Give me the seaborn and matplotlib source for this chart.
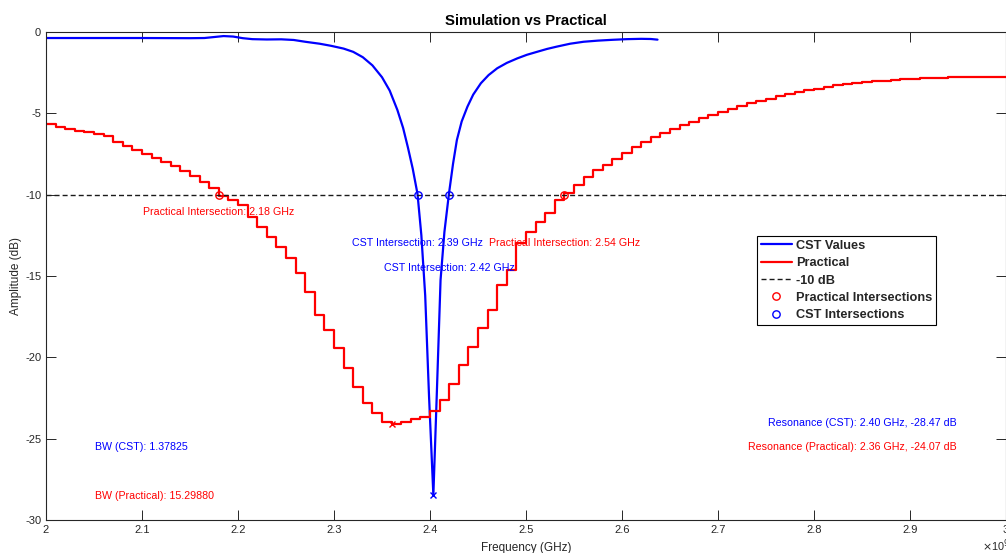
import numpy as np
import pandas as pd
import matplotlib
matplotlib.use("Agg")
import matplotlib.pyplot as plt
import seaborn as sns

# ---------------- data ----------------
# CST simulated S11 (GHz, dB)
cst_freq = [2.000, 2.050, 2.100, 2.150, 2.165, 2.175, 2.185, 2.195, 2.205, 2.215,
            2.230, 2.245, 2.258, 2.270, 2.285, 2.297, 2.310, 2.320, 2.330, 2.340,
            2.350, 2.358, 2.366, 2.372, 2.377, 2.382, 2.387, 2.391, 2.395, 2.399,
            2.4035, 2.407, 2.411, 2.415, 2.4197, 2.424, 2.428, 2.433, 2.439, 2.445,
            2.453, 2.461, 2.470, 2.480, 2.491, 2.501, 2.512, 2.522, 2.532, 2.546,
            2.560, 2.575, 2.590, 2.605, 2.620, 2.630, 2.637]
cst_db = [-0.37, -0.37, -0.37, -0.38, -0.37, -0.31, -0.25, -0.28, -0.38, -0.44,
          -0.46, -0.45, -0.49, -0.60, -0.72, -0.85, -1.02, -1.22, -1.55, -2.05,
          -2.78, -3.60, -4.79, -5.90, -7.10, -8.40, -9.96, -12.5, -16.2, -22.4,
          -28.47, -22.4, -15.24, -12.3, -9.96, -8.10, -6.64, -5.50, -4.59, -3.85,
          -3.15, -2.65, -2.23, -1.90, -1.62, -1.40, -1.21, -1.04, -0.90, -0.72,
          -0.60, -0.53, -0.48, -0.44, -0.42, -0.43, -0.47]

# Practical (measured) S11, stepped every 0.01 GHz
prac_freq = [2.00, 2.01, 2.02, 2.03, 2.04, 2.05, 2.06, 2.07, 2.08, 2.09,
             2.10, 2.11, 2.12, 2.13, 2.14, 2.15, 2.16, 2.17, 2.18, 2.19,
             2.20, 2.21, 2.22, 2.23, 2.24, 2.25, 2.26, 2.27, 2.28, 2.29,
             2.30, 2.31, 2.32, 2.33, 2.34, 2.35, 2.36, 2.37, 2.38, 2.39,
             2.40, 2.41, 2.42, 2.43, 2.44, 2.45, 2.46, 2.47, 2.48, 2.49,
             2.50, 2.51, 2.52, 2.53, 2.54, 2.55, 2.56, 2.57, 2.58, 2.59,
             2.60, 2.61, 2.62, 2.63, 2.64, 2.65, 2.66, 2.67, 2.68, 2.69,
             2.70, 2.71, 2.72, 2.73, 2.74, 2.75, 2.76, 2.77, 2.78, 2.79,
             2.80, 2.81, 2.82, 2.83, 2.84, 2.85, 2.86, 2.87, 2.88, 2.89,
             2.90, 2.91, 2.92, 2.93, 2.94, 2.95, 2.96, 2.97, 2.98, 2.99,
             3.00]
prac_db = [-5.66, -5.82, -5.94, -6.06, -6.17, -6.27, -6.37, -6.78, -7.01, -7.25,
           -7.50, -7.72, -8.01, -8.24, -8.54, -8.85, -9.20, -9.57, -10.10, -10.35,
           -10.65, -11.35, -11.97, -12.58, -13.20, -13.91, -14.84, -15.96, -17.39, -18.35,
           -19.45, -20.67, -21.84, -22.82, -23.44, -23.95, -24.07, -23.95, -23.81, -23.64,
           -23.29, -22.62, -21.64, -20.47, -19.34, -18.21, -17.09, -15.55, -14.63, -12.99,
           -12.27, -11.66, -11.10, -10.35, -9.90, -9.40, -8.89, -8.48, -8.17, -7.81,
           -7.42, -7.05, -6.74, -6.47, -6.23, -5.98, -5.74, -5.51, -5.29, -5.10,
           -4.90, -4.73, -4.55, -4.38, -4.24, -4.10, -3.93, -3.81, -3.69, -3.59,
           -3.48, -3.36, -3.28, -3.20, -3.13, -3.07, -3.03, -2.99, -2.95, -2.91,
           -2.87, -2.85, -2.83, -2.81, -2.79, -2.77, -2.75, -2.75, -2.75, -2.77,
           -2.79]

threshold_db = -10
prac_int_freq = [2.18, 2.54]
cst_int_freq = [2.387, 2.4197]
cst_res = (2.4035, -28.47)
prac_res = (2.36, -24.07)

x_ticks = [2.0, 2.1, 2.2, 2.3, 2.4, 2.5, 2.6, 2.7, 2.8, 2.9, 3.0]
x_tick_labels = ["2", "2.1", "2.2", "2.3", "2.4", "2.5", "2.6", "2.7", "2.8", "2.9", "3"]
y_ticks = [-30, -25, -20, -15, -10, -5, 0]

bw_cst_text = "BW (CST): 1.37825"
bw_prac_text = "BW (Practical): 15.29880"
res_cst_text = "Resonance (CST): 2.40 GHz, -28.47 dB"
res_prac_text = "Resonance (Practical): 2.36 GHz, -24.07 dB"

# ---------------- style ----------------
sns.set_style("ticks")
plt.rcParams["font.family"] = ["Liberation Sans", "DejaVu Sans"]
plt.rcParams["axes.unicode_minus"] = False
dark = (0.15, 0.15, 0.15)

W, H = 1006, 553
fig = plt.figure(figsize=(W / 100, H / 100), dpi=100)
ax = fig.add_axes([46 / W, 1 - 520 / H, (1006 - 46) / W, (520 - 32) / H])

cst_df = pd.DataFrame({"freq": cst_freq, "db": cst_db})
prac_df = pd.DataFrame({"freq": prac_freq, "db": prac_db})

sns.lineplot(data=cst_df, x="freq", y="db", ax=ax, color=(0, 0, 1), lw=1.6,
             estimator=None, sort=False, label="CST Values")
sns.lineplot(data=prac_df, x="freq", y="db", ax=ax, color=(1, 0, 0), lw=1.6,
             estimator=None, sort=False, drawstyle="steps-post", label="Practical")
ax.axhline(threshold_db, color=(0.1, 0.1, 0.1), lw=1.0, dashes=(3.6, 2.2), label="-10 dB")

ax.plot(prac_int_freq, [threshold_db] * len(prac_int_freq), ls="none", marker="o",
        ms=5.3, mfc="none", mec=(1, 0, 0), mew=1.0, label="Practical Intersections")
ax.plot(cst_int_freq, [threshold_db] * len(cst_int_freq), ls="none", marker="o",
        ms=5.3, mfc="none", mec=(0, 0, 1), mew=1.0, label="CST Intersections")
ax.plot([cst_res[0]], [cst_res[1]], ls="none", marker="x", ms=4, mec=(0, 0, 1),
        mew=1.0, label="_nolegend_")
ax.plot([prac_res[0]], [prac_res[1]], ls="none", marker="x", ms=4, mec=(1, 0, 0),
        mew=1.0, label="_nolegend_")

fs_ann = 7.7
ax.text(prac_int_freq[0], -11.05, f"Practical Intersection: {prac_int_freq[0]:.2f} GHz",
        color=(1, 0, 0), fontsize=fs_ann, ha="center", va="center")
ax.text(prac_int_freq[1], -13.0, f"Practical Intersection: {prac_int_freq[1]:.2f} GHz",
        color=(1, 0, 0), fontsize=fs_ann, ha="center", va="center")
ax.text(cst_int_freq[0], -13.0, f"CST Intersection: {cst_int_freq[0]:.2f} GHz",
        color=(0, 0, 1), fontsize=fs_ann, ha="center", va="center")
ax.text(cst_int_freq[1], -14.5, f"CST Intersection: {cst_int_freq[1]:.2f} GHz",
        color=(0, 0, 1), fontsize=fs_ann, ha="center", va="center")
ax.text(2.051, -25.5, bw_cst_text, color=(0, 0, 1), fontsize=fs_ann, ha="left", va="center")
ax.text(2.051, -28.5, bw_prac_text, color=(1, 0, 0), fontsize=fs_ann, ha="left", va="center")
ax.text(2.7524, -24.03, res_cst_text, color=(0, 0, 1), fontsize=fs_ann, ha="left", va="center")
ax.text(2.7315, -25.5, res_prac_text, color=(1, 0, 0), fontsize=fs_ann, ha="left", va="center")

ax.set_xlim(2.0, 3.0)
ax.set_ylim(-30, 0)
ax.set_xticks(x_ticks)
ax.set_xticklabels(x_tick_labels)
ax.set_yticks(y_ticks)
ax.tick_params(axis="both", which="both", direction="in", length=7, width=0.7,
               color=dark, labelcolor=dark, labelsize=8, pad=3.5,
               top=True, right=True)
for sp in ax.spines.values():
    sp.set_visible(True)
    sp.set_color(dark)
    sp.set_linewidth(0.8)

ax.set_xlabel("Frequency (GHz)", fontsize=8.5, color=dark, labelpad=5.5)
ax.set_ylabel("Amplitude (dB)", fontsize=8.5, color=dark, labelpad=2.5)
ax.set_title("Simulation vs Practical", fontsize=10.7, fontweight="bold", color="black", pad=5)

fig.text(982 / W, 1 - 551 / H, r"$\times$10$^{9}$", fontsize=7.8, color=dark,
         ha="left", va="baseline")

handles, labels = ax.get_legend_handles_labels()
order = ["CST Values", "Practical", "-10 dB", "Practical Intersections", "CST Intersections"]
hmap = dict(zip(labels, handles))
leg = ax.legend([hmap[k] for k in order], order, loc="upper left",
                bbox_to_anchor=(757 / W, 1 - 236 / H), bbox_transform=fig.transFigure,
                borderaxespad=0, frameon=True, fancybox=False, framealpha=1,
                edgecolor="black", prop={"weight": "bold", "size": 9.2},
                handlelength=2.45, handletextpad=0.3, labelspacing=0.42,
                borderpad=0.3)
leg.get_frame().set_linewidth(0.8)

fig.savefig("out.png", dpi=100)
